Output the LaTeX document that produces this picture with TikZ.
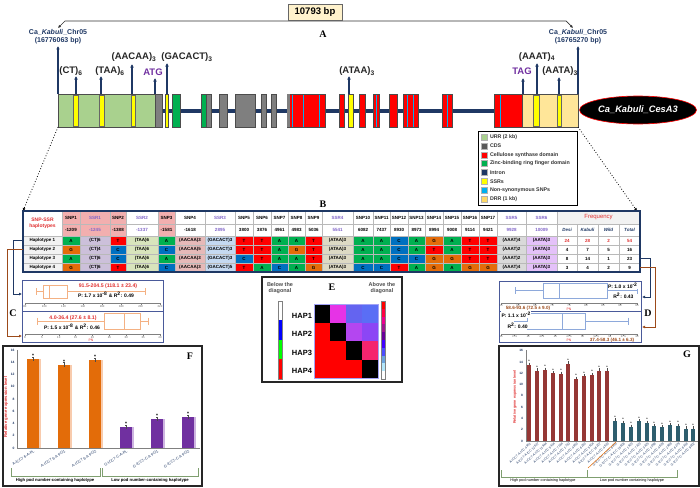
\documentclass[tikz,border=0pt]{standalone}
\usepackage{fontspec}
\setmainfont{Liberation Sans}
\newfontfamily\panelfont{Liberation Serif}
\usetikzlibrary{arrows.meta, shapes.geometric}

\definecolor{navy}{HTML}{1F3864}
\definecolor{urrgreen}{HTML}{A9D18E}
\definecolor{drrbeige}{HTML}{FFE699}
\definecolor{drrorange}{HTML}{FFD966}
\definecolor{cdsgray}{HTML}{7F7F7F}
\definecolor{zincgreen}{HTML}{00B050}
\definecolor{ssryellow}{HTML}{FFFF00}
\definecolor{snpblue}{HTML}{00B0F0}
\definecolor{cesred}{HTML}{FF0000}
\definecolor{tagpurple}{HTML}{7030A0}
\definecolor{ssrpurple}{HTML}{8064C8}
\definecolor{bpbox}{HTML}{FFF2CC}
\definecolor{nA}{HTML}{00B050}
\definecolor{nT}{HTML}{FF0000}
\definecolor{nC}{HTML}{0070C0}
\definecolor{nG}{HTML}{E46C0A}
\definecolor{hdpink}{HTML}{F2AFAF}
\definecolor{sCT}{HTML}{CCC0DA}
\definecolor{sTAA}{HTML}{D8E4BC}
\definecolor{sAACAA}{HTML}{E6B9B8}
\definecolor{sGACACT}{HTML}{C5D9F1}
\definecolor{sATAA}{HTML}{DDD9C4}
\definecolor{sAAAT}{HTML}{D9D9D9}
\definecolor{sAATA}{HTML}{E4C1F9}
\definecolor{hapgray}{HTML}{F2F2F2}
\definecolor{freqred}{HTML}{E03030}
\definecolor{linkbrown}{HTML}{9C4A1A}
\definecolor{boxorange}{HTML}{F4B183}
\definecolor{boxblue}{HTML}{8EA9DB}
\definecolor{panelblue}{HTML}{4A5A9A}
\definecolor{barorange}{HTML}{E36C09}
\definecolor{barorangelt}{HTML}{F8CBAD}
\definecolor{barpurple}{HTML}{7030A0}
\definecolor{barpurplelt}{HTML}{CDB4E0}
\definecolor{barred}{HTML}{953735}
\definecolor{barteal}{HTML}{2E5E6E}
\definecolor{bracketgreen}{HTML}{7F9F6F}
\definecolor{m12}{HTML}{E633E6}
\definecolor{m13}{HTML}{6464F0}
\definecolor{m14}{HTML}{5A6EF5}
\definecolor{m23}{HTML}{B446F0}
\definecolor{m24}{HTML}{8C46F5}
\definecolor{m34}{HTML}{F5246E}

\newcommand{\fsz}[1]{\fontsize{#1}{\fpeval{1.2*#1}}\selectfont}
% x positions of the table columns
\def\colx{{23,62,80,110,126,158,175,205,235,253,271,288,305,322,353,373,390,408,425,443,461,479,497,526,557,577,598,619,640}}
% one row of the haplotype table
\newcommand{\haprow}[4]{%
  \foreach \cf/\tx [count=\k] in {#4} {
    \pgfmathsetmacro\xa{\colx[\k-1+#1]}
    \pgfmathsetmacro\xb{\colx[\k+#1]}
    \filldraw[fill=\cf, draw=gray!55, line width=0.3pt] (\xa,#2) rectangle (\xb,#3);
    \node[font=\fsz{4.5}\bfseries] at ({(\xa+\xb)/2},{(#2+#3)/2}) {\tx};
  }}

\begin{document}
\begin{tikzpicture}[x=1pt, y=-1pt, every node/.style={inner sep=0pt, outer sep=0pt},
    ssrarrow/.style={navy, line width=1.3pt, -{Latex[length=3.5pt,width=3.8pt]}},
    genebox/.style={draw=gray!60!black, line width=0.4pt},
    ssrlabel/.style={font=\fsz{9.5}\bfseries, text=black!85},
    panelletter/.style={font=\panelfont\fsz{10}\bfseries},
    linkarrow/.style={line width=0.9pt, -{Latex[length=3pt,width=3pt]}},
    whisk/.style={line width=0.6pt}]
    \useasboundingbox (0,0) rectangle (700,487);

    % ---------- A: gene structure ----------
    \coordinate (chrL) at (58,28);
    \coordinate (chrR) at (573,28);
    \draw[black!80, line width=0.7pt, {Latex[length=3pt,width=3pt]}-{Latex[length=3pt,width=3pt]}]
        (chrL) -- (65,21) -- (566,21) -- (chrR);
    \node[draw=black!60, fill=bpbox, line width=0.6pt, minimum width=54pt, minimum height=16pt,
        font=\fsz{9.5}\bfseries] (bp) at (315,12) {10793 bp};
    \node[panelletter] (letA) at (323,34) {A};

    \node[font=\fsz{7}\bfseries, text=navy] (chrLa) at (58,32) {Ca\_\textit{Kabuli}\_Chr05};
    \node[font=\fsz{7}\bfseries, text=navy] (chrLb) at (58,41) {(16776063 bp)};
    \node[font=\fsz{7}\bfseries, text=navy] (chrRa) at (578,32) {Ca\_\textit{Kabuli}\_Chr05};
    \node[font=\fsz{7}\bfseries, text=navy] (chrRb) at (578,41) {(16765270 bp)};

    % intron backbone
    \draw[navy, line width=4pt] (158,111) -- (522,111);
    % exons, UTRs and domains
    \foreach \xa/\xb/\cf in {58/155/urrgreen, 155/162/cdsgray, 165/168/ssryellow, 172/180/zincgreen,
        201/206/zincgreen, 206/211/cdsgray, 219/227/cdsgray, 235/255/cdsgray, 261/266/cdsgray,
        271/276/cdsgray, 287/325/cesred, 339/344/cesred, 348/353/ssryellow, 359/365/cesred,
        373/379/cesred, 389/397/cesred, 403/418/cesred, 442/452/cesred, 494/522/cesred, 522/578/drrbeige}
        \filldraw[genebox, fill=\cf] (\xa,94) rectangle (\xb,127);
    \fill[cdsgray] (287.3,94.3) rectangle (290,126.7);
    % SSRs in URR and DRR
    \foreach \xa/\xb in {73/78, 99/104, 131/135, 533/539, 557/561}
        \filldraw[draw=black!60, fill=ssryellow, line width=0.4pt] (\xa,95) rectangle (\xb,126);
    % non-synonymous SNPs
    \foreach \x in {292, 303, 319, 376, 407, 413, 447, 500}
        \draw[snpblue, line width=1pt] (\x,94.5) -- (\x,126.5);

    % markers
    \foreach \x/\tip in {58/46, 76/76, 101/76, 132/64, 155/78, 167/63, 349/76, 523/78, 537/63, 559/77, 578/46}
        \draw[ssrarrow] (\x,94) -- (\x,\tip);
    \node[ssrlabel] (ct) at (71,71) {(CT)\textsubscript{6}};
    \node[ssrlabel] (taa) at (110,71) {(TAA)\textsubscript{6}};
    \node[ssrlabel] (aacaa) at (134,57) {(AACAA)\textsubscript{3}};
    \node[ssrlabel, text=tagpurple] (atg) at (153,72) {ATG};
    \node[ssrlabel] (gacact) at (187,57) {(GACACT)\textsubscript{3}};
    \node[ssrlabel] (ataa) at (357,71) {(ATAA)\textsubscript{3}};
    \node[ssrlabel, text=tagpurple] (tag) at (522,71) {TAG};
    \node[ssrlabel] (aaat) at (537,57) {(AAAT)\textsubscript{4}};
    \node[ssrlabel] (aata) at (560,71) {(AATA)\textsubscript{3}};

    \node[ellipse, fill=black, draw=red, line width=0.6pt, minimum width=117pt, minimum height=28pt,
        text=white, font=\fsz{9.3}\bfseries\itshape] (cesa) at (638,110) {Ca\_Kabuli\_CesA3};

    % legend
    \draw[black, line width=1pt] (478,131) rectangle (577,205);
    \foreach \cf/\tx [count=\i] in {urrgreen/URR (2 kb), {black!65}/CDS, cesred/Cellulose synthase domain,
        zincgreen/Zinc-binding ring finger domain, navy/Intron, ssryellow/SSRs,
        snpblue/Non-synonymous SNPs, drrorange/DRR (1 kb)} {
        \filldraw[fill=\cf, draw=gray!60, line width=0.3pt] (481,{134+(\i-1)*8.85}) rectangle (487,{140+(\i-1)*8.85});
        \node[anchor=west, font=\fsz{5.3}\bfseries, text=black!80] at (490,{137+(\i-1)*8.85}) {\tx};
    }

    % zoom lines to the table
    \coordinate (urrL) at (58,127);
    \coordinate (drrR) at (578,127);
    \coordinate (tabL) at (23,211);
    \coordinate (tabR) at (637,211);
    \draw[dotted, line width=0.8pt, -{Latex[length=3pt,width=3pt]}] (urrL) -- (tabL);
    \draw[dotted, line width=0.8pt, -{Latex[length=3pt,width=3pt]}] (drrR) -- (tabR);

    % ---------- B: haplotype table ----------
    \node[panelletter] (letB) at (323,204) {B};
    \filldraw[fill=white, draw=gray!55, line width=0.3pt] (23,211) rectangle (62,236);
    \node[font=\fsz{5}\bfseries, text=freqred, align=center] (hdr) at (42.5,223.5) {SNP-SSR\\haplotypes};
    \haprow{1}{211}{224}{hdpink/SNP1, hdpink/\textcolor{ssrpurple}{SSR1}, hdpink/SNP2, white/\textcolor{ssrpurple}{SSR2},
        hdpink/SNP3, white/SNP4, white/\textcolor{ssrpurple}{SSR3}, white/SNP5, white/SNP6, white/SNP7, white/SNP8,
        white/SNP9, white/\textcolor{ssrpurple}{SSR4}, white/SNP10, white/SNP11, white/SNP12, white/SNP13,
        white/SNP14, white/SNP15, white/SNP16, white/SNP17, white/\textcolor{ssrpurple}{SSR5},
        white/\textcolor{ssrpurple}{SSR6}}
    \filldraw[fill=hapgray, draw=gray!55, line width=0.3pt] (557,211) rectangle (640,224);
    \node[font=\fsz{6}, text=freqred] (freq) at (598.5,217.5) {Frequency};
    \haprow{1}{224}{236}{hdpink/-1209, hdpink/\textcolor{ssrpurple}{-1245}, hdpink/-1388, white/\textcolor{ssrpurple}{-1337},
        hdpink/-1581, white/-1618, white/\textcolor{ssrpurple}{2895}, white/3800, white/3876, white/4961,
        white/4983, white/5036, white/\textcolor{ssrpurple}{5541}, white/6082, white/7437, white/8930,
        white/8973, white/8994, white/9008, white/9114, white/9421, white/\textcolor{ssrpurple}{9928},
        white/\textcolor{ssrpurple}{10009}, white/\textit{\textcolor{navy}{Desi}},
        white/\textit{\textcolor{navy}{Kabuli}}, white/\textit{\textcolor{navy}{Wild}},
        white/\textit{\textcolor{navy}{Total}}}
    \haprow{0}{236}{245}{hapgray/Haplotype 1, nA/A, sCT/(CT)6, nT/T, sTAA/(TAA)6, nA/A, sAACAA/(AACAA)3,
        sGACACT/(GACACT)3, nT/T, nT/T, nA/A, nA/A, nT/T, sATAA/(ATAA)3, nA/A, nA/A, nC/C, nA/A, nG/G,
        nA/A, nT/T, nT/T, sAAAT/(AAAT)4, sAATA/(AATA)3, white/\textcolor{freqred}{24},
        white/\textcolor{freqred}{28}, white/\textcolor{freqred}{2}, white/\textcolor{freqred}{54}}
    \haprow{0}{245}{254}{hapgray/Haplotype 2, nG/G, sCT/(CT)4, nC/C, sTAA/(TAA)6, nC/C, sAACAA/(AACAA)5,
        sGACACT/(GACACT)3, nT/T, nT/T, nA/A, nG/G, nT/T, sATAA/(ATAA)3, nA/A, nA/A, nC/C, nA/A, nT/T,
        nA/A, nT/T, nT/T, sAAAT/(AAAT)2, sAATA/(AATA)3, white/4, white/7, white/5, white/16}
    \haprow{0}{254}{263}{hapgray/Haplotype 3, nA/A, sCT/(CT)6, nC/C, sTAA/(TAA)6, nA/A, sAACAA/(AACAA)3,
        sGACACT/(GACACT)3, nC/C, nT/T, nA/A, nA/A, nT/T, sATAA/(ATAA)3, nA/A, nA/A, nC/C, nC/C, nG/G,
        nG/G, nT/T, nT/T, sAAAT/(AAAT)2, sAATA/(AATA)3, white/8, white/14, white/1, white/23}
    \haprow{0}{263}{272}{hapgray/Haplotype 4, nG/G, sCT/(CT)6, nT/T, sTAA/(TAA)6, nC/C, sAACAA/(AACAA)3,
        sGACACT/(GACACT)5, nT/T, nA/A, nC/C, nA/A, nG/G, sATAA/(ATAA)3, nC/C, nC/C, nT/T, nA/A, nG/G,
        nA/A, nG/G, nG/G, sAAAT/(AAAT)4, sAATA/(AATA)3, white/3, white/4, white/2, white/9}
    \draw[navy, line width=1.2pt] (23,211) rectangle (640,272);

    % links from haplotypes to the box plots
    \coordinate (hap1L) at (23,240.5);
    \coordinate (hap2L) at (23,249.5);
    \coordinate (hap3R) at (640,258.5);
    \coordinate (hap4R) at (640,267.5);
    \coordinate (cTop) at (22,294);
    \coordinate (cBot) at (22,336);
    \coordinate (dTop) at (642,297);
    \coordinate (dBot) at (642,327);
    \draw[linkarrow, navy] (hap1L) -- (13,240.5) -- (13,294) -- (cTop);
    \draw[linkarrow, linkbrown] (hap2L) -- (7,249.5) -- (7,336) -- (cBot);
    \draw[linkarrow, navy] (hap3R) -- (650,258.5) -- (650,297) -- (dTop);
    \draw[linkarrow, linkbrown] (hap4R) -- (655,267.5) -- (655,327) -- (dBot);

    % ---------- C: box plots ----------
    \node[panelletter] (letC) at (13,313) {C};
    \draw[panelblue, line width=0.8pt] (22,280) rectangle (163,342);
    \draw[panelblue, line width=0.8pt] (22,311) -- (163,311);
    \draw[boxorange, whisk] (43,285) rectangle (67,298) (49,285) -- (49,298)
        (36,291.5) -- (43,291.5) (67,291.5) -- (145,291.5) (36,288) -- (36,295) (145,288) -- (145,295);
    \draw[gray, line width=0.3pt] (25,303) -- (160,303);
    \foreach \v in {80,100,...,220} {
        \pgfmathsetmacro\px{25+(\v-80)*0.9643}
        \draw[gray, line width=0.3pt] (\px,303) -- (\px,304.5);
        \node[font=\fsz{2.8}, text=gray!70!black] at (\px,306.5) {\v};
    }
    \node[font=\fsz{5.2}\bfseries, text=freqred] (cTxt1) at (108,286) {91.5-204.5 (118.1 ± 23.4)};
    \node[font=\fsz{5}\bfseries] (cTxt2) at (106,295) {P: 1.7 x 10\textsuperscript{-8} \& R\textsuperscript{2}: 0.49};
    \draw[boxorange, whisk] (104,313) rectangle (140,329) (124,313) -- (124,329)
        (37,321) -- (104,321) (140,321) -- (148,321) (37,317.5) -- (37,324.5) (148,317.5) -- (148,324.5);
    \draw[gray, line width=0.3pt] (25,334) -- (160,334);
    \foreach \v in {0,5,...,40} {
        \pgfmathsetmacro\px{25+\v*3.375}
        \draw[gray, line width=0.3pt] (\px,334) -- (\px,335.5);
        \node[font=\fsz{2.8}, text=gray!70!black] at (\px,337.5) {\v};
    }
    \node[font=\fsz{5.2}\bfseries, text=freqred, fill=white, inner sep=0.5pt] (cTxt3) at (73,318) {4.0-36.4 (27.6 ± 8.1)};
    \node[font=\fsz{5}\bfseries, fill=white, inner sep=0.5pt] (cTxt4) at (72,327) {P: 1.5 x 10\textsuperscript{-8} \& R\textsuperscript{2}: 0.46};
    \node[font=\fsz{3.5}, text=freqred] (cPN) at (91,340.5) {PN};

    % ---------- D: box plots ----------
    \node[panelletter] (letD) at (648,313) {D};
    \draw[panelblue, line width=0.8pt] (499,281) rectangle (641,342);
    \draw[panelblue, line width=0.8pt] (499,311) -- (641,311);
    \draw[boxblue, whisk] (543,283) rectangle (607,298) (559,283) -- (559,298)
        (515,290.5) -- (543,290.5) (607,290.5) -- (637,290.5) (515,287) -- (515,294) (637,287) -- (637,294);
    \draw[gray, line width=0.3pt] (501,303) -- (637,303);
    \foreach \v in {55,60,...,95} {
        \pgfmathsetmacro\px{501+(\v-55)*3.4}
        \draw[gray, line width=0.3pt] (\px,303) -- (\px,304.5);
        \node[font=\fsz{2.8}, text=gray!70!black] at (\px,306) {\v};
    }
    \node[anchor=east, font=\fsz{5}\bfseries, fill=white, inner sep=0.5pt] (dTxt1) at (638,286) {P: 1.0 x 10\textsuperscript{-2}};
    \node[anchor=east, font=\fsz{5}\bfseries, fill=white, inner sep=0.5pt] (dTxt2) at (634,295.5) {R\textsuperscript{2}: 0.43};
    \node[font=\fsz{4.6}\bfseries, text=linkbrown] (dTxt3) at (528,308.5) {58.6-93.6 (72.5 ± 9.0)};
    \node[font=\fsz{3.5}, text=freqred] (dPN1) at (569,309) {PN};
    \draw[boxblue, whisk] (527,313) rectangle (585,329) (562,313) -- (562,329)
        (514,321) -- (527,321) (585,321) -- (628,321) (628,317.5) -- (628,324.5);
    \draw[gray, line width=0.3pt] (501,334) -- (637,334);
    \foreach \v in {35,37.5,...,60} {
        \pgfmathsetmacro\px{501+(\v-35)*5.44}
        \draw[gray, line width=0.3pt] (\px,334) -- (\px,335.5);
        \node[font=\fsz{2.6}, text=gray!70!black] at (\px,337) {\v};
    }
    \node[anchor=west, font=\fsz{5}\bfseries, fill=white, inner sep=0.5pt] (dTxt4) at (501,314.5) {P: 1.1 x 10\textsuperscript{-2}};
    \node[anchor=west, font=\fsz{5}\bfseries, fill=white, inner sep=0.5pt] (dTxt5) at (507,325.5) {R\textsuperscript{2}: 0.40};
    \node[font=\fsz{4.6}\bfseries, text=linkbrown] (dTxt6) at (612,340) {37.4-58.3 (46.1 ± 6.3)};
    \node[font=\fsz{3.5}, text=freqred] (dPN2) at (569,340) {PN};

    % ---------- E: haplotype LD matrix ----------
    \draw[black!85, line width=1.5pt] (262,277) rectangle (402,382);
    \node[panelletter] (letE) at (332,287) {E};
    \node[font=\fsz{5.5}\bfseries, text=black!70, align=center] (below) at (280,288) {Below the\\diagonal};
    \node[font=\fsz{5.5}\bfseries, text=black!70, align=center] (above) at (382,288) {Above the\\diagonal};
    \foreach \ya/\yb/\cf in {301/320/white, 320/340/blue, 340/359/green, 359/379/red}
        \fill[\cf] (278,\ya) rectangle (282,\yb);
    \draw[gray, line width=0.3pt] (278,301) rectangle (282,379);
    \foreach \cf [count=\i] in {red, {red!75!magenta}, magenta, {magenta!60!blue}, {violet!80!blue},
        {blue!75!magenta}, {blue!70!white}, {cyan!60!blue!60!white}, {cyan!30!white}, white}
        \fill[\cf] (381,{301+(\i-1)*7.8}) rectangle (385,{301+\i*7.8});
    \draw[gray, line width=0.3pt] (381,301) rectangle (385,379);
    % matrix cells
    \foreach \r in {1,...,4} {
        \foreach \c in {1,...,4} {
            \ifnum\r>\c \fill[red] ({314+(\c-1)*16},{304+(\r-1)*18.5}) rectangle ++(16,18.5); \fi
            \ifnum\r=\c \fill[black] ({314+(\c-1)*16},{304+(\r-1)*18.5}) rectangle ++(16,18.5); \fi
        }
        \node[anchor=east, font=\fsz{7.5}\bfseries] (hap\r) at (312,{304+(\r-0.5)*18.5+2.5}) {HAP\r};
    }
    \foreach \r/\c/\cf in {1/2/m12, 1/3/m13, 1/4/m14, 2/3/m23, 2/4/m24, 3/4/m34}
        \fill[\cf] ({314+(\c-1)*16},{304+(\r-1)*18.5}) rectangle ++(16,18.5);
    \draw[m13!60, line width=0.4pt] (314,304) rectangle (378,378);

    % ---------- F: expression, pod number haplotypes ----------
    \draw[black!85, line width=1.5pt] (3,346) rectangle (202,486);
    \node[panelletter] (letF) at (190,356) {F};
    \draw[gray, line width=0.4pt] (17,350) -- (17,448) -- (200,448);
    \foreach \v in {0,2,...,16}
        \node[anchor=east, font=\fsz{3.3}\bfseries, text=navy] at (14.5,{448-6.125*\v}) {\v};
    \node[rotate=90, font=\fsz{4.2}\bfseries, text=freqred] (fylab) at (6,407) {Relative gene expression level};
    \foreach \bx/\v/\cf/\cs/\lab in {33/14.5/barorange/barorangelt/A-ICC7 6-A-PL,
        64/13.6/barorange/barorangelt/A-ICC7 6-A-PG1, 95/14.3/barorange/barorangelt/A-ICC7 6-A-PG2,
        126/3.4/barpurple/barpurplelt/G-ICC7-C-A-PL, 157/4.7/barpurple/barpurplelt/G-ICC7-C-A-PG1,
        188/5.0/barpurple/barpurplelt/G-ICC7-C-A-PG2} {
        \fill[\cf] ({\bx-6},448) rectangle ({\bx+6},{448-6.125*\v});
        \fill[\cs] ({\bx+6},448) rectangle ({\bx+7.5},{448-6.125*\v});
        \draw[black!70, line width=0.4pt] (\bx,{448-6.125*(\v+0.35)}) -- (\bx,{448-6.125*(\v-0.3)})
            ({\bx-1},{448-6.125*(\v+0.35)}) -- ({\bx+1},{448-6.125*(\v+0.35)});
        \node[font=\fsz{5}\bfseries] at (\bx,{448-6.125*(\v+0.35)-1}) {*};
        \node[font=\fsz{3.8}, text=navy, rotate=33, anchor=east] at ({\bx+1},451) {\lab};
    }
    \draw[bracketgreen, line width=0.7pt] (11,468) -- (11,476) -- (100,476) -- (100,468);
    \draw[bracketgreen, line width=0.7pt] (102,468) -- (102,476) -- (198,476) -- (198,468);
    \node[font=\fsz{4.2}\bfseries] (fhigh) at (55,480.5) {High pod number-containing haplotype};
    \node[font=\fsz{4.2}\bfseries] (flow) at (150,480.5) {Low pod number-containing haplotype};

    % ---------- G: expression, association panel ----------
    \draw[black!85, line width=1.5pt] (499,346) rectangle (699,486);
    \node[panelletter] (letG) at (687,354) {G};
    \draw[gray, line width=0.4pt] (526,350) -- (526,441) -- (698,441);
    \foreach \v in {0,2,...,16}
        \node[anchor=east, font=\fsz{3.2}\bfseries, text=navy] at (523,{441-5.64*\v}) {\v};
    \node[rotate=90, font=\fsz{3.7}\bfseries, text=freqred] (gylab) at (515,397) {Relative gene expression level};
    \foreach \bx/\v/\cf/\lab in {529/13.5/barred/A-ICC7-A-ICC 4951, 537/12.5/barred/A-ICC7-A-ICC 12537,
        545/12.6/barred/A-ICC7-A-ICC 11944, 553/12.0/barred/A-ICC7-A-ICC 5434, 561/11.9/barred/A-ICC7-A-ICC 7184,
        568/13.7/barred/A-ICC7-A-ICC 1710, 576/11.0/barred/A-ICC7-A-ICC 4853, 584/11.5/barred/A-ICC7-A-ICC 6263,
        592/11.7/barred/A-ICC7-A-ICC 5504, 599/12.5/barred/A-ICC7-A-ICC 16207, 607/12.5/barred/A-ICC7-A-ICC 4533,
        615/3.6/barteal/G-ICC7-C-A-ICC 8855, 623/3.2/barteal/G-ICC7-C-A-ICC 15606, 631/2.5/barteal/G-ICC7-C-A-ICC 1923,
        639/3.5/barteal/G-ICC7-C-A-ICC 7323, 647/3.2/barteal/G-ICC7-C-A-ICC 3325, 654/2.6/barteal/G-ICC7-C-A-ICC 1098,
        662/2.4/barteal/G-ICC7-C-A-ICC 4639, 670/2.8/barteal/G-ICC7-C-A-ICC 2969, 678/2.7/barteal/G-ICC7-C-A-ICC 6279,
        686/2.2/barteal/G-ICC7-C-A-ICC 8318, 693/2.2/barteal/G-ICC7-C-A-ICC 9002} {
        \fill[\cf] ({\bx-2.2},441) rectangle ({\bx+2.2},{441-5.64*\v});
        \draw[black!70, line width=0.3pt] (\bx,{441-5.64*(\v+0.4)}) -- (\bx,{441-5.64*\v});
        \node[font=\fsz{3.5}\bfseries] at (\bx,{441-5.64*(\v+0.4)-1}) {*};
        \node[font=\fsz{3.2}, text=navy, rotate=43, anchor=east] at ({\bx+1.5},443.5) {\lab};
    }
    \draw[barorange, line width=0.5pt] (616,442) -- (588,468);
    \draw[bracketgreen, line width=0.7pt] (501,470) -- (501,477) -- (587,477) -- (587,470);
    \draw[bracketgreen, line width=0.7pt] (587,477) -- (677,477) -- (677,470);
    \node[font=\fsz{3.8}] (ghigh) at (543,480.5) {High pod number containing haplotype};
    \node[font=\fsz{3.8}] (glow) at (632,480.5) {Low pod number containing haplotype};
\end{tikzpicture}
\end{document}
